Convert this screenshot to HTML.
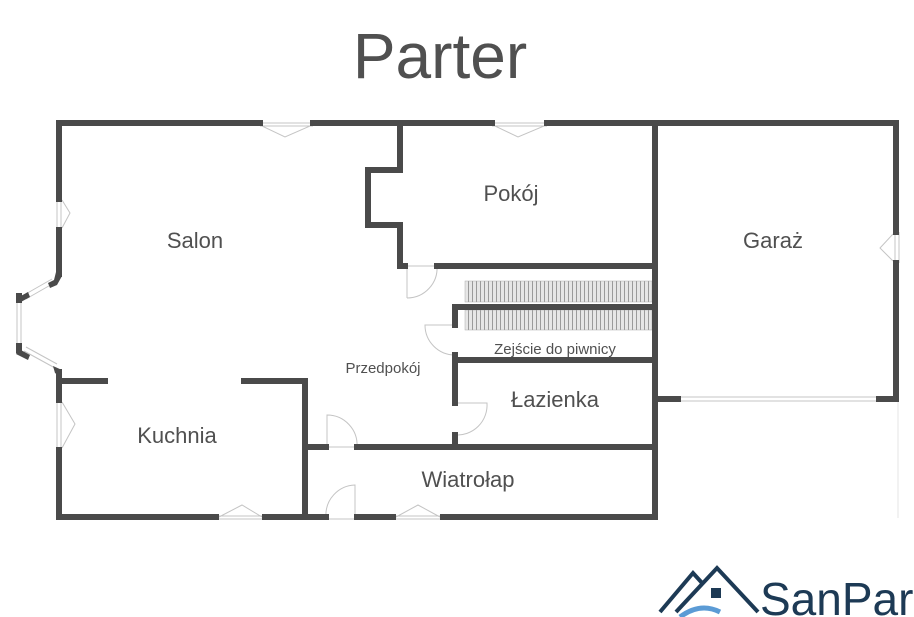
<!DOCTYPE html>
<html><head><meta charset="utf-8"><style>
html,body{margin:0;padding:0;background:#fff;}
svg{display:block;}
text{font-family:"Liberation Sans",sans-serif;fill:#505050;}
</style></head><body>
<svg width="914" height="617" viewBox="0 0 914 617" xmlns="http://www.w3.org/2000/svg">
<defs>
<pattern id="st" width="4" height="10" patternUnits="userSpaceOnUse">
<rect width="4" height="10" fill="#e6e6e6"/><rect width="1" height="10" fill="#9a9a9a"/>
</pattern>
</defs>
<text x="440" y="78" font-size="64" text-anchor="middle">Parter</text>

<rect x="465" y="281" width="187" height="21" fill="url(#st)" stroke="#aaa" stroke-width="0.5"/>
<rect x="465" y="310" width="187" height="20" fill="url(#st)" stroke="#aaa" stroke-width="0.5"/>

<g stroke="#c4c4c4" stroke-width="1" fill="none">
<line x1="260" y1="123" x2="313" y2="123"/><line x1="260" y1="126" x2="313" y2="126"/>
<line x1="492" y1="123" x2="547" y2="123"/><line x1="492" y1="126" x2="547" y2="126"/>
<line x1="57" y1="199" x2="57" y2="230"/><line x1="61" y1="199" x2="61" y2="230"/>
<line x1="57" y1="400" x2="57" y2="450"/><line x1="61" y1="400" x2="61" y2="450"/>
<line x1="895" y1="232" x2="895" y2="263"/><line x1="899" y1="232" x2="899" y2="263"/>
<line x1="680" y1="397" x2="879" y2="397"/><line x1="680" y1="401" x2="879" y2="401"/>
<line x1="898" y1="400" x2="898" y2="518" stroke="#e4e4e4"/>
<line x1="216" y1="516" x2="265" y2="516"/><line x1="216" y1="519" x2="265" y2="519"/>
<line x1="393" y1="516" x2="443" y2="516"/><line x1="393" y1="519" x2="443" y2="519"/>
<line x1="326" y1="519" x2="357" y2="519"/>
<line x1="326" y1="447" x2="357" y2="447"/>
<line x1="17" y1="300" x2="17" y2="346"/><line x1="21" y1="300" x2="21" y2="346"/>
<line x1="24" y1="295" x2="52" y2="279"/><line x1="26" y1="299" x2="54" y2="283"/>
<line x1="24" y1="351" x2="55" y2="368"/><line x1="26" y1="347" x2="57" y2="364"/>
<path d="M407 266 V298 M407 266 H437 A30 30 0 0 1 407 298"/>
<path d="M455 325 H425 A30 30 0 0 0 455 355"/>
<path d="M455 403 H487 A30 30 0 0 1 455 435"/>
<path d="M327 447 V415 A30 30 0 0 1 357 447"/>
<path d="M355 517 V485 A30 30 0 0 0 326 517"/>
<path d="M262 126 L285 137 L310 126"/>
<path d="M495 126 L518 137 L544 126"/>
<path d="M219 517 L242 505 L262 517"/>
<path d="M396 517 L418 505 L440 517"/>
<path d="M62 200 L70 213 L62 228"/>
<path d="M62 402 L75 424 L62 448"/>
<path d="M893 234 L880 248 L893 261"/>
</g>

<g stroke="#4a4a4a" stroke-width="6" fill="none" stroke-linecap="square">
<path d="M59 199 V123 H260"/>
<path d="M313 123 H492"/>
<path d="M547 123 H896 V232"/>
<path d="M896 263 V399 H879"/>
<path d="M655 399 H678"/>
<path d="M655 123 V517 H443"/>
<path d="M393 517 H357"/>
<path d="M326 517 H265"/>
<path d="M216 517 H59 V450"/>
<path d="M59 230 V274"/>
<path d="M59 400 V372"/>
<path d="M400 123 V170 H368 V225 H400 V266 H405"/>
<path d="M437 266 H655"/>
<path d="M455 325 V307 H655"/>
<path d="M455 355 V403"/>
<path d="M455 435 V447"/>
<path d="M455 360 H655"/>
<path d="M305 447 H326"/>
<path d="M357 447 H655"/>
<path d="M305 517 V381 H244"/>
<path d="M59 381 H105"/>
</g>
<g fill="#4a4a4a">
<polygon points="56,272 62,276 57,285 50,288 48,283 54,280"/>
<rect x="16" y="293" width="6" height="10"/>
<rect x="16" y="343" width="6" height="10"/>
<polygon points="19,349 30,355 28,360 16,354"/>
<polygon points="19,297 28,292 30,297 19,303"/>
<polygon points="53,366 62,370 62,378 55,373"/>
</g>

<text x="195" y="248" font-size="22" text-anchor="middle">Salon</text>
<text x="511" y="201" font-size="22" text-anchor="middle">Pokój</text>
<text x="773" y="248" font-size="22" text-anchor="middle">Garaż</text>
<text x="383" y="373" font-size="15" text-anchor="middle">Przedpokój</text>
<text x="555" y="354" font-size="15" text-anchor="middle">Zejście do piwnicy</text>
<text x="555" y="407" font-size="22" text-anchor="middle">Łazienka</text>
<text x="177" y="443" font-size="22" text-anchor="middle">Kuchnia</text>
<text x="468" y="487" font-size="22" text-anchor="middle">Wiatrołap</text>

<g stroke="#1d3a55" stroke-width="4" fill="none">
<path d="M660 612 L693 573 L703 584"/>
<path d="M676 612 L717 568 L758 612"/>
</g>
<rect x="711" y="588" width="10" height="10" fill="#1d3a55"/>
<path d="M680 617 Q700 602 720 612" stroke="#5b9bd5" stroke-width="5" fill="none"/>
<text x="760" y="615" font-size="46" style="fill:#1d3a55">SanPar</text>
</svg>
</body></html>
